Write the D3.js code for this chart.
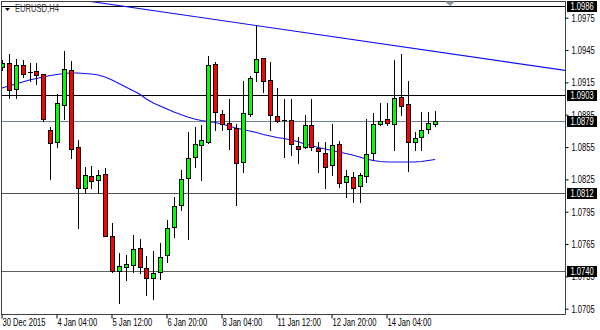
<!DOCTYPE html>
<html><head><meta charset="utf-8">
<script src="https://cdn.jsdelivr.net/npm/d3@7"></script>
<style>html,body{margin:0;padding:0;background:#fff;} svg{display:block;}</style>
</head><body>
<svg id="c" width="600" height="330"></svg>
<script>
// ---- data (EURUSD H4) ----
const opens  = [1.09293,1.0933,1.09088,1.09311,1.09246,1.09255,1.09228,1.08708,1.08597,1.0894,1.09265,1.0855,1.0817,1.08281,1.08244,1.083,1.07725,1.074,1.07437,1.07456,1.07613,1.07428,1.07335,1.07391,1.07548,1.07808,1.08012,1.08263,1.08458,1.08569,1.08597,1.0932,1.08857,1.08773,1.08727,1.08411,1.08857,1.09246,1.09376,1.09172,1.08838,1.08801,1.08801,1.0856,1.0855,1.08754,1.08541,1.08495,1.08383,1.08578,1.08226,1.08272,1.08188,1.08281,1.08495,1.08764,1.0881,1.08764,1.09014,1.08949,1.08597,1.08643,1.08717,1.08764];
const highs  = [1.09358,1.09413,1.09367,1.09358,1.0933,1.0933,1.09228,1.08736,1.09042,1.09441,1.09348,1.08615,1.08365,1.08374,1.08337,1.08356,1.07845,1.07567,1.07548,1.07734,1.07697,1.07539,1.07585,1.0766,1.07873,1.08086,1.08337,1.0869,1.08736,1.08754,1.09395,1.09339,1.08894,1.08996,1.08764,1.09163,1.09209,1.09682,1.09376,1.09339,1.09098,1.08996,1.08996,1.08643,1.08847,1.08996,1.08597,1.08597,1.08764,1.08606,1.08337,1.08318,1.08309,1.0881,1.08866,1.08959,1.08959,1.09358,1.09413,1.09163,1.0869,1.08875,1.08875,1.08884];
const lows   = [1.09265,1.09005,1.09005,1.092,1.09163,1.09135,1.08792,1.08253,1.0855,1.0881,1.08448,1.07799,1.08124,1.0817,1.08124,1.07725,1.07391,1.07103,1.07316,1.07391,1.07381,1.07177,1.0714,1.07326,1.07483,1.07715,1.07966,1.07697,1.08365,1.08244,1.08587,1.08708,1.08708,1.08532,1.08012,1.08318,1.08838,1.09163,1.09061,1.08708,1.08782,1.08458,1.08476,1.08402,1.08541,1.08523,1.08318,1.0817,1.08291,1.08179,1.08086,1.0804,1.0804,1.08226,1.0843,1.08754,1.08754,1.08523,1.08847,1.08328,1.08523,1.08523,1.0868,1.08745];
const closes = [1.0933,1.09079,1.09311,1.09228,1.09244,1.09218,1.0881,1.08587,1.08959,1.09274,1.08532,1.0817,1.08291,1.08235,1.08291,1.07725,1.074,1.07446,1.07465,1.07604,1.07437,1.07335,1.07381,1.0753,1.07799,1.08003,1.08253,1.08448,1.08578,1.08615,1.09311,1.08875,1.08764,1.08717,1.08402,1.08866,1.0919,1.09367,1.09163,1.08847,1.08792,1.08799,1.08578,1.08532,1.08754,1.0855,1.08513,1.08365,1.08569,1.08216,1.08281,1.0817,1.08291,1.08485,1.08764,1.08792,1.08773,1.09005,1.08931,1.08597,1.08634,1.08708,1.08773,1.0879];
const maValues = [1.09098,1.09116,1.09135,1.09153,1.09172,1.09186,1.092,1.09214,1.09223,1.09232,1.09237,1.09237,1.09232,1.09228,1.09218,1.092,1.09172,1.0914,1.09107,1.09074,1.09042,1.08996,1.08959,1.08931,1.08903,1.08875,1.08852,1.08829,1.0881,1.08796,1.08787,1.08778,1.08764,1.08745,1.08727,1.08713,1.08699,1.08685,1.08666,1.08652,1.08639,1.08629,1.08615,1.08601,1.08578,1.08564,1.08546,1.08532,1.08518,1.08504,1.0849,1.08476,1.08458,1.08439,1.08425,1.08416,1.08411,1.08411,1.08411,1.08411,1.08411,1.08416,1.08425,1.08434];
const trendBars   = [0, 82];
const trendPrices = [1.1002, 1.0926];
const levels = [1.0986, 1.0903, 1.0879, 1.0812, 1.0740];
const levelLabels = ["1.0986","1.0903","1.0879","1.0812","1.0740"];
const yTicks = [1.0975,1.0945,1.0915,1.0885,1.0855,1.0825,1.0795,1.0765,1.0735,1.0705];
const xTickBars = [0, 8, 16, 24, 32, 40, 48, 56];
const xTickLabels = ["30 Dec 2015","4 Jan 04:00","5 Jan 12:00","6 Jan 20:00","8 Jan 04:00","11 Jan 12:00","12 Jan 20:00","14 Jan 04:00"];
const title = "EURUSD,H4";

// ---- layout ----
const SX = 0.76; // horizontal text condensing
const FONT = "'Liberation Sans', Arial, sans-serif";
const plot = {l: 1.5, t: 1, r: 565, b: 314};
const svg = d3.select('#c');
const x = d3.scaleLinear().domain([0, 80]).range([2, 552]);
const y = d3.scaleLinear().domain([1.0975, 1.0705]).range([17.7, 308.7]);

svg.append('defs').append('clipPath').attr('id','clip')
  .append('rect').attr('x', plot.l).attr('y', plot.t).attr('width', plot.r - plot.l).attr('height', plot.b - plot.t);

const levelColors = ['#000000','#000000','#708090','#505050','#606060'];
const gLv = svg.append('g').attr('clip-path','url(#clip)');
levels.forEach((v,i) => {
  const yy = Math.round(y(v)) + 0.5;
  gLv.append('line').attr('x1', plot.l).attr('x2', plot.r).attr('y1', yy).attr('y2', yy)
    .attr('stroke', levelColors[i]).attr('stroke-width', 1);
});

// title
svg.append('path').attr('d','M5,8 L10,8 L7.5,11 Z').attr('fill','#000');
svg.append('text').attr('transform',`translate(15,11.5) scale(${SX},1)`)
  .attr('font-family', FONT).attr('font-size', 10).attr('fill','#404040').text(title);

const gp = svg.append('g').attr('clip-path','url(#clip)');
// trend line
gp.append('line')
  .attr('x1', x(trendBars[0])).attr('y1', y(trendPrices[0]))
  .attr('x2', x(trendBars[1])).attr('y2', y(trendPrices[1]))
  .attr('stroke', '#1010f0').attr('stroke-width', 1.1);

// moving average
gp.append('path').datum(maValues)
  .attr('d', d3.line().x((d,i)=>x(i)).y(d=>y(d)))
  .attr('fill','none').attr('stroke','#1010f0').attr('stroke-width',1.1);

// candles
const bars = d3.range(opens.length);
const gc = gp.append('g');
bars.forEach(i => {
  const cx = Math.round(x(i)) + 0.5;
  gc.append('line').attr('x1', cx).attr('x2', cx)
    .attr('y1', Math.round(y(highs[i]))).attr('y2', Math.round(y(lows[i])) + 1)
    .attr('stroke', '#000').attr('stroke-width', 1);
  const yo = y(opens[i]), yc = y(closes[i]);
  const top = Math.round(Math.min(yo, yc)), bot = Math.round(Math.max(yo, yc));
  if (bot - top < 1) {
    gc.append('line').attr('x1', cx - 2.5).attr('x2', cx + 2.5)
      .attr('y1', top + 0.5).attr('y2', top + 0.5).attr('stroke','#000');
  } else {
    gc.append('rect').attr('x', cx - 2).attr('y', top + 0.5)
      .attr('width', 4).attr('height', bot - top)
      .attr('fill', closes[i] >= opens[i] ? '#00ff00' : '#ff0000')
      .attr('stroke', '#000').attr('stroke-width', 1);
  }
});

// borders
const gb = svg.append('g').attr('fill','none').attr('stroke','#404040').attr('stroke-width',1);
gb.append('line').attr('x1', 1.5).attr('x2', 1.5).attr('y1', 1).attr('y2', 314.5);
gb.append('line').attr('x1', 1).attr('x2', 565.5).attr('y1', 1.5).attr('y2', 1.5);
gb.append('line').attr('x1', 565.5).attr('x2', 565.5).attr('y1', 1).attr('y2', 314.5);
gb.append('line').attr('x1', 1).attr('x2', 565.5).attr('y1', 314.5).attr('y2', 314.5);

// shift marker
svg.append('path').attr('d','M445,1.5 L455,1.5 L450,6 Z').attr('fill','#8a98a8');

// right axis
const ya = svg.append('g').attr('transform','translate(565.5,0)')
  .call(d3.axisRight(y).tickValues(yTicks).tickSize(3).tickFormat(d3.format('.4f')));
ya.select('.domain').remove();
ya.selectAll('.tick line').attr('stroke','#000');
ya.selectAll('.tick text').attr('x', 6/SX).attr('transform', `scale(${SX},1)`)
  .attr('dy','0.35em').attr('font-family', FONT).attr('font-size', 10).attr('fill','#000');

// level boxes
levels.forEach((v,i) => {
  const yy = Math.round(y(v)) + 0.5;
  svg.append('rect').attr('x', 567).attr('y', yy - 5.5).attr('width', 30).attr('height', 11).attr('fill','#000');
  svg.append('text').attr('transform', `translate(570.5,${yy + 3.6}) scale(${SX},1)`)
    .attr('font-family', FONT).attr('font-size', 10).attr('fill','#fff').text(levelLabels[i]);
});

// bottom axis
const xa = svg.append('g').attr('transform','translate(0,314.5)')
  .call(d3.axisBottom(x).tickValues(xTickBars).tickSize(4).tickFormat((d,i)=>xTickLabels[i]));
xa.select('.domain').remove();
xa.selectAll('.tick line').attr('stroke','#000').attr('transform','translate(-0.5,0)');
xa.selectAll('.tick text').attr('text-anchor','start').attr('x', 0).attr('y', 4).attr('dy','0.75em')
  .attr('transform', `scale(${SX},1)`)
  .attr('font-family', FONT).attr('font-size', 10).attr('fill','#000');
</script>
</body></html>
